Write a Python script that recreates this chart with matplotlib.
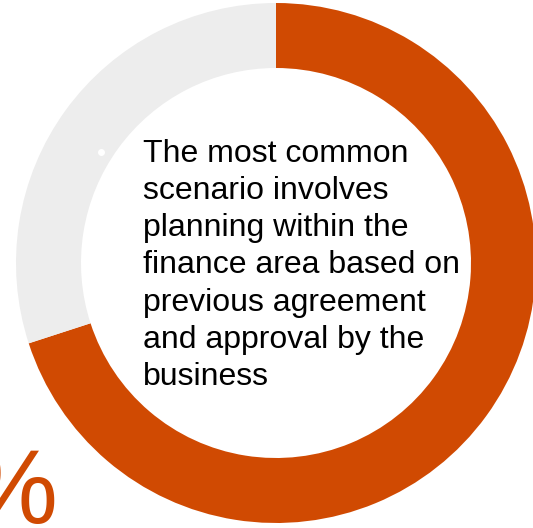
import matplotlib
matplotlib.use("Agg")
import matplotlib.pyplot as plt

# share of respondents
labels = ["Planning in finance", "Other"]
shares = [70, 30]
headline = "70%"
caption = ("The most common\nscenario involves\nplanning within the\n"
           "finance area based on\nprevious agreement\nand approval by the\nbusiness")

orange = "#D04A02"
grey = "#EDEDED"

fig = plt.figure(figsize=(5.33, 5.28), dpi=100)
ax = fig.add_axes([0, 0, 1, 1])

ax.pie(shares, colors=[orange, grey], startangle=90, counterclock=False,
       radius=260, center=(276, 265),
       wedgeprops=dict(width=65, edgecolor="none"))

# little marker on the grey arc
ax.plot([101], [528 - 152], marker="o", ms=5, color="white", mec="none")

ax.text(143, 528 - 139, caption, ha="left", va="top", fontsize=23,
        family="Liberation Sans", color="black", linespacing=1.31)

ax.text(59, 5, headline, ha="right", va="baseline", fontsize=76,
        family="Liberation Sans", color=orange)

ax.set_xlim(0, 533)
ax.set_ylim(0, 528)
ax.set_aspect("equal")
ax.axis("off")

fig.savefig("out.png", dpi=100)
